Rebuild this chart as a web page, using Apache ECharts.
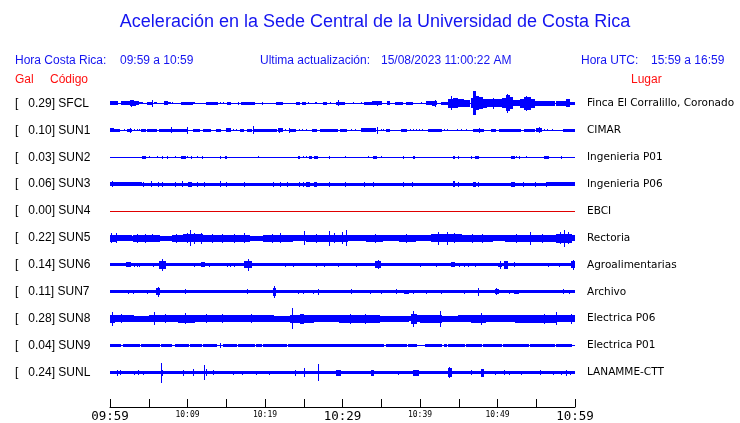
<!DOCTYPE html>
<html>
<head>
<meta charset="utf-8">
<script src="https://cdn.jsdelivr.net/npm/echarts@6/dist/echarts.min.js"></script>
<style>html,body{margin:0;padding:0;background:#fff}#c{width:740px;height:423px}</style>
</head>
<body>
<div id="c"></div>
<script>
// ---------- data ----------
const codes  = ['SFCL','SUN1','SUN2','SUN3','SUN4','SUN5','SUN6','SUN7','SUN8','SUN9','SUNL'];
const gals   = ['0.29','0.10','0.03','0.06','0.00','0.22','0.14','0.11','0.28','0.04','0.24'];
const places = ['Finca El Corralillo, Coronado','CIMAR','Ingenieria P01','Ingenieria P06','EBCI','Rectoria',
                'Agroalimentarias','Archivo','Electrica P06','Electrica P01','LANAMME-CTT'];
// background half-amplitude of each trace (pixels of a 27px row)
const baseAmp = [0.5,0.5,0.5,1.5,0.5,2.5,1.5,1.5,2.5,0.5,1.5];
// minutes after 09:59 of each axis label
const tickMinutes = [0,10,20,30,40,50,60];
const tickLabels  = ['09:59','10:09','10:19','10:29','10:39','10:49','10:59'];
const bigTickLabels = ['09:59','10:29','10:59'];
// envelope segments: [startMinute, endMinute, halfAmplitude]
const sfcl = [[0,0.5,2],[0.6,1.0,2],[1.5,2.0,2],[2.1,2.5,2],[2.6,3.0,3],[2.8,2.8,3.5],[3.0,3.3,2.5],[3.3,3.65,2],[3.65,4.2,1],
 [4.8,5.3,1.5],[5.45,5.45,3.5],[5.8,6.0,1],[7.0,7.4,2],[7.6,7.8,1],[8.0,8.1,1],[9.2,10.0,1.5],[10.1,10.6,1.5],
 [10.8,10.9,1],[12.4,13.9,1.5],[14.2,14.3,1],[14.6,14.7,1],[15.2,15.6,1.5],[16.6,16.6,1.5],[17.0,18.7,1.5],[19.7,19.7,1.5],
 [21.5,22.3,1.5],[24.0,24.4,1.5],[24.9,25.2,1.5],[25.6,25.6,1],[26.5,26.7,1],[27.6,27.9,1.5],[28.5,28.5,1],
 [29.2,30.2,1.5],[29.5,29.5,3],[31.4,31.4,1],[32.4,32.4,1],[32.9,33.9,1.5],[33.9,35.0,2],[34.5,34.5,2.5],
 [35.8,36.1,2],[36.8,37.8,1.5],[38.3,39.0,1.5],[40.2,40.2,1],[40.85,41.6,2],[41.6,41.9,2.5],[41.95,41.95,3.5],
 [42.0,42.15,2],[42.8,43.65,1.5],[43.65,44.3,4.5],[44.0,44.0,7],[44.3,44.8,5],[44.8,45.6,4],[45.6,46.45,3.5],
 [46.6,46.8,5],[46.9,47.1,12],[47.1,47.6,7],[47.6,48.1,6],[48.1,48.6,4.5],[48.6,50.5,4],[49.5,49.5,5.5],
 [50.7,51.1,5],[51.1,51.6,8],[51.35,51.35,9.5],[51.6,52.0,6],[52.0,52.9,3],[53.0,53.5,4.5],[53.5,54.2,6.5],
 [53.8,53.8,7.5],[54.2,54.8,4.5],[54.8,57.4,2.5],[57.6,58.9,2.5],[58.9,59.35,4],[59.35,60,1.5]];
const sun1 = [[0,0.4,2],[0.6,1.2,1.5],[1.9,1.9,1],[2.3,2.8,1.5],[2.6,2.6,2.5],[3.2,3.2,1],[3.5,3.5,1],[3.8,3.8,1],
 [4.1,4.6,1.5],[4.85,6.0,1.5],[6.45,9.9,1.5],[7.95,7.95,3],[10.0,10.0,3.5],[10.75,11.6,1.5],[12.1,13.0,1.5],
 [13.75,14.2,1.5],[15.05,15.5,2],[15.9,15.9,1],[16.3,16.3,1],[16.8,17.2,1.5],[17.75,18.3,1.5],[18.5,18.5,4],
 [18.6,21.5,1.5],[21.7,22.3,2],[21.9,21.9,2.5],[22.7,22.7,1],[23.1,24.0,1.5],[23.2,23.2,2.5],[24.4,24.4,1],
 [24.9,24.9,1],[25.3,25.3,1],[26.1,26.65,1.5],[27.2,29.3,1.5],[29.7,30.5,1.5],[31.2,31.2,1],[31.7,31.7,1],
 [32.5,34.2,2],[34.5,34.5,3.5],[35.0,35.0,1],[35.3,35.3,1],[35.7,36.1,1.5],[37.6,38.3,1.5],[38.8,38.8,1],
 [39.2,39.2,1],[39.5,39.5,1],[39.9,39.9,1],[40.3,40.3,1],[41.05,42.8,1.5],[43.1,43.1,1],[43.6,43.6,1],
 [44.9,44.9,1],[45.3,45.3,1],[46.0,46.0,1],[46.9,48.15,1.5],[47.7,47.7,2.5],[49.25,49.7,1.5],[50.3,53.0,1.5],
 [53.5,54.75,1.5],[55.05,55.7,2],[55.4,55.4,3],[56.0,56.0,1],[56.4,56.4,1],[57.1,57.1,1],[58.5,60,1.5]];
const sun2 = [[4.15,4.6,1.5],[5.1,5.1,1],[6.1,6.1,1],[6.75,6.75,1.5],[7.4,7.4,1.5],[8.5,8.5,1],[9.25,9.7,1.5],
 [10.0,10.0,1],[10.5,10.5,1.5],[11.3,11.3,1],[11.9,11.9,1.5],[14.2,14.2,1.5],[14.85,15.05,1.5],[19.1,19.1,1],
 [24.3,24.5,1.5],[24.95,24.95,1],[25.4,25.4,1],[25.8,26.0,1.5],[26.45,26.75,1.5],[28.3,28.3,1.5],[30.45,30.45,1],
 [33.4,33.4,1],[33.95,34.4,1.5],[35.05,35.05,1],[37.85,37.85,1.5],[39.15,39.35,1.5],[44.3,44.5,1.5],
 [44.95,44.95,1.5],[46.65,46.65,1.5],[47.1,47.5,1.5],[51.8,52.25,1.5],[52.5,52.5,1],[52.9,52.9,1.5],
 [53.75,53.75,1],[56.1,56.55,1.5],[58.3,58.3,1.5]];
const sun3 = [[0,4.1,2],[0.3,0.3,3],[4.3,4.3,2.5],[5.3,5.3,3],[6.25,6.25,2.5],[6.75,6.75,2.5],[8.5,8.5,2.5],
 [9.3,9.3,3],[10.1,10.5,2.5],[11.3,11.3,2.5],[12.15,12.15,2.5],[14.2,14.2,3],[15.05,15.05,2.5],[17.35,17.35,2.5],
 [21.15,21.15,2.5],[21.95,21.95,2.5],[22.9,22.9,2.5],[24.45,24.45,2.5],[24.95,24.95,2.5],[25.4,25.8,2.5],
 [26.45,26.65,2.5],[28.3,28.3,2.5],[30.45,30.45,2.5],[32.8,32.8,2.5],[34.05,34.05,2.5],[37.85,37.85,2.5],
 [39.05,39.05,2.5],[44.3,44.5,3],[45.0,45.0,2.5],[46.9,47.1,2.5],[47.5,47.5,2.5],[51.8,52.25,2.5],
 [53.3,53.3,2.5],[54.9,54.9,2.5],[56.35,56.35,2.5],[56.5,60,2]];
const sun4 = [];
const sun5 = [[0,0.9,3.5],[0.2,0.2,5],[0.85,0.85,5],[0.9,2.8,3],[3.0,6.45,3.5],[3.6,3.6,4.5],[4.6,4.6,4.5],
 [5.5,5.5,4],[8.0,9.5,3.5],[8.6,8.6,4.5],[9.5,12.0,4],[10.0,10.0,5],[10.45,10.45,8],[10.9,10.9,5.5],
 [11.75,11.75,5.5],[12.0,18.0,3.5],[13.2,13.2,4.5],[14.5,14.5,4.5],[16.0,16.0,4.5],[17.4,17.4,5],
 [19.8,23.6,3.5],[21.0,21.0,4.5],[22.0,22.0,5],[23.6,25.3,3],[25.15,25.15,7],[25.3,30.7,3.5],[26.6,26.6,4.5],
 [28.3,28.3,7.5],[29.0,29.0,5],[30.0,30.0,6],[30.5,30.5,8],[30.7,33.1,3],[33.1,35.2,3.5],[34.2,34.2,4.5],
 [35.2,37.3,3],[37.3,39.4,3.5],[38.3,38.3,4.5],[39.4,41.5,3],[41.5,45.4,4],[42.35,42.35,6.5],[43.6,43.6,6.5],
 [44.5,44.5,5],[45.4,49.3,3.5],[46.8,46.8,4.5],[48.0,48.0,4.5],[49.3,51.0,3],[51.0,54.0,3.5],[52.5,52.5,4.5],
 [54.2,54.2,6.5],[54.0,57.6,3.5],[55.8,55.8,4.5],[57.6,59.6,4.5],[58.1,58.1,6],[58.6,58.6,8.5],[59.2,59.2,6],
 [59.6,60,3]];
const sun6 = [[2.15,2.7,2.5],[3.2,3.2,2],[3.5,3.5,2],[3.8,3.8,2],[5.6,5.6,2],[6.45,7.1,4],[6.75,6.75,6],
 [10.9,10.9,2],[11.8,12.25,2.5],[12.9,12.9,2],[15.1,15.1,2],[15.5,15.5,2],[16.1,16.1,2],[17.4,18.3,3.5],
 [17.85,17.85,6],[22.6,22.6,2],[23.65,23.65,2],[26.65,26.65,2],[27.7,27.7,2],[29.45,29.45,2],[31.8,31.8,2],
 [34.3,34.9,3.5],[34.6,34.6,4.5],[40.0,40.0,2],[42.15,42.15,2],[44.1,44.5,2.5],[45.15,45.15,2],[45.8,45.8,2],
 [46.3,46.3,2],[47.1,47.1,2],[50.1,50.5,2],[50.45,50.45,4],[50.95,51.3,4],[52.25,52.25,2.5],[56.55,56.55,2],
 [58.05,58.05,2],[59.55,60,3.5],[59.8,59.8,5]];
const sun7 = [[2.35,2.35,2],[3.0,3.0,2],[4.85,4.85,2],[6.0,6.45,3.5],[6.2,6.2,5],[9.7,9.7,2.5],[17.75,17.75,2.5],
 [21.1,21.4,4],[21.25,21.25,6],[24.3,24.3,2],[24.95,24.95,2],[26.2,26.2,2],[26.9,26.9,3],[31.2,31.2,2.5],
 [33.55,33.55,2],[35.05,35.05,2],[37.0,37.0,2.5],[38.05,38.5,2],[39.15,39.15,2],[40.85,40.85,2],[42.8,42.8,2],
 [45.8,45.8,2],[47.5,47.5,4],[49.7,50.1,2.5],[49.85,49.85,3.5],[51.6,51.6,2],[52.25,52.7,2],[58.5,58.5,2.5],
 [59.35,59.35,2]];
const sun8 = [[0,0.6,4],[0.3,0.3,7],[0.6,3.05,3.5],[1.5,1.5,4.5],[3.05,5.1,3],[5.1,5.9,3.5],[5.7,5.7,6.5],
 [5.9,8.9,3.5],[7.2,7.2,4.5],[8.9,10.9,4],[9.8,9.8,5.5],[10.9,17.0,3.5],[12.5,12.5,4.5],[14.5,14.5,4.5],
 [17.0,19.9,3.5],[18.2,18.2,4.5],[19.9,21.1,3.5],[21.1,23.1,3],[23.3,23.8,4],[23.55,23.55,10.5],[23.8,26.2,4],
 [24.6,25.0,5],[26.2,29.6,3.5],[29.6,34.8,4],[31.0,31.0,5],[33.0,33.0,5],[34.8,38.5,3],[38.9,39.55,5],
 [39.2,39.2,8],[39.55,40.1,3.5],[40.1,42.8,4],[42.6,42.6,8],[42.8,45.0,3],[45.0,46.7,3.5],[46.7,48.4,4],
 [47.95,47.95,6],[48.4,50.6,3.5],[50.6,52.3,3.5],[52.3,54.9,4],[54.9,57.5,4],[56.0,56.0,5],[57.6,57.6,6.5],
 [57.5,60,3.5],[59.5,59.5,5]];
const sun9 = [[0,1.4,1.5],[1.7,3.85,1.5],[4.1,6.45,1.5],[6.65,7.95,1.5],[8.4,10.1,1.5],[10.45,11.8,1.5],
 [12.05,13.75,1.5],[14.2,14.2,2.5],[14.6,16.35,1.5],[16.55,18.7,1.5],[18.9,19.5,1.5],[19.8,20.65,1.5],
 [20.85,22.8,1.5],[23.0,27.1,1.5],[27.3,29.7,1.5],[29.9,35.25,1.5],[35.7,38.3,1.5],[38.5,39.55,1.5],
 [40.65,42.8,1.5],[43.2,43.4,1.5],[43.65,45.8,1.5],[46.0,47.95,1.5],[48.2,50.55,1.5],[50.75,53.95,1.5],
 [54.2,57.4,1.5],[57.6,59.55,1.5]];
const sunl = [[0.95,0.95,3],[1.4,1.4,2.5],[3.2,3.2,2],[3.65,3.65,2.5],[4.3,4.3,2],[6.6,6.6,10],[6.8,6.8,3],
 [9.45,9.45,3],[10.75,10.75,3.5],[12.25,12.25,7.5],[12.45,12.45,3.5],[13.35,13.35,2.5],[15.9,15.9,2],
 [17.05,17.05,2],[18.9,18.9,2],[20.55,20.55,2],[23.9,23.9,3],[25.15,25.15,4.5],[26.9,26.9,8.5],
 [29.25,29.7,3],[33.75,33.95,3],[37.2,37.2,2],[39.15,39.8,3],[39.55,39.55,3],[43.65,44.1,4.5],
 [43.85,43.85,5.5],[46.65,46.65,2.5],[47.95,48.15,4],[49.7,49.7,2],[50.9,50.9,2.5],[51.6,51.6,2],
 [53.1,53.1,2],[55.5,55.5,2.5],[57.2,57.2,2],[58.3,58.3,2],[58.9,58.9,3],[59.45,59.45,2]];
const traces = [sfcl,sun1,sun2,sun3,sun4,sun5,sun6,sun7,sun8,sun9,sunl];
const totalMinutes = 60;

// ---------- styling ----------
const BLUE = '#0000ff', DEAD = '#e00000', TXT_BLUE = '#1414f0', TXT_RED = '#ff1010';
const ROW_PX = 27;

const items = [];
traces.forEach((segs, i) => {
  items.push([i, 0, totalMinutes, baseAmp[i]]);
  segs.forEach(s => items.push([i, s[0], s[1], s[2]]));
});

const chart = echarts.init(document.getElementById('c'), null, {renderer: 'canvas'});
chart.setOption({
  animation: false,
  grid: {left: 110, width: 465, top: 90, height: 297},
  xAxis: {
    type: 'value', min: 0, max: totalMinutes, interval: 5, offset: 21,
    axisLine: {show: true, lineStyle: {color: '#000', width: 1}},
    axisTick: {show: true, inside: true, length: 8, lineStyle: {color: '#000', width: 1}},
    splitLine: {show: false},
    axisLabel: {
      margin: 2, color: '#000', fontFamily: 'DejaVu Sans Mono',
      formatter: v => {
        const k = tickMinutes.indexOf(v);
        if (k < 0) return '';
        const lab = tickLabels[k];
        return bigTickLabels.includes(lab) ? '{b|' + lab + '}' : '{s|' + lab + '}';
      },
      rich: {
        b: {fontSize: 12.5, fontFamily: 'DejaVu Sans Mono', color: '#000', padding: [1,0,0,0]},
        s: {fontSize: 8, fontFamily: 'DejaVu Sans Mono', color: '#000', padding: [2,0,0,0]}
      }
    }
  },
  yAxis: [{
    type: 'category', data: codes, inverse: true, position: 'left',
    axisLine: {show: false}, axisTick: {show: false}, splitLine: {show: false},
    axisLabel: {
      margin: 95, align: 'left', color: '#000', fontFamily: 'Liberation Sans', fontSize: 12,
      formatter: (v, idx) => '[   ' + gals[idx] + '] ' + v
    }
  }, {
    type: 'category', data: places, inverse: true, position: 'right',
    axisLine: {show: false}, axisTick: {show: false}, splitLine: {show: false},
    axisLabel: {margin: 12, align: 'left', color: '#000', fontFamily: 'DejaVu Sans', fontSize: 10.5}
  }],
  graphic: [
    {type: 'text', x: 375, y: 22, style: {text: 'Aceleración en la Sede Central de la Universidad de Costa Rica',
      fill: TXT_BLUE, font: '18px "Liberation Sans"', textAlign: 'center', textVerticalAlign: 'middle'}},
    {type: 'text', x: 15, y: 61, style: {text: 'Hora Costa Rica:', fill: TXT_BLUE, font: '12px "Liberation Sans"', textVerticalAlign: 'middle'}},
    {type: 'text', x: 120, y: 61, style: {text: '09:59 a 10:59', fill: TXT_BLUE, font: '12px "Liberation Sans"', textVerticalAlign: 'middle'}},
    {type: 'text', x: 260, y: 61, style: {text: 'Ultima actualización:', fill: TXT_BLUE, font: '12px "Liberation Sans"', textVerticalAlign: 'middle'}},
    {type: 'text', x: 381, y: 61, style: {text: '15/08/2023 11:00:22 AM', fill: TXT_BLUE, font: '12px "Liberation Sans"', textVerticalAlign: 'middle'}},
    {type: 'text', x: 581, y: 61, style: {text: 'Hora UTC:', fill: TXT_BLUE, font: '12px "Liberation Sans"', textVerticalAlign: 'middle'}},
    {type: 'text', x: 651, y: 61, style: {text: '15:59 a 16:59', fill: TXT_BLUE, font: '12px "Liberation Sans"', textVerticalAlign: 'middle'}},
    {type: 'text', x: 15, y: 80, style: {text: 'Gal', fill: TXT_RED, font: '12px "Liberation Sans"', textVerticalAlign: 'middle'}},
    {type: 'text', x: 50, y: 80, style: {text: 'Código', fill: TXT_RED, font: '12px "Liberation Sans"', textVerticalAlign: 'middle'}},
    {type: 'text', x: 631, y: 80, style: {text: 'Lugar', fill: TXT_RED, font: '12px "Liberation Sans"', textVerticalAlign: 'middle'}}
  ],
  series: [{
    type: 'custom',
    coordinateSystem: 'cartesian2d',
    xAxisIndex: 0, yAxisIndex: 0,
    encode: {x: [1, 2], y: 0},
    data: items,
    clip: false,
    renderItem: (params, api) => {
      const row = api.value(0), t0 = api.value(1), t1 = api.value(2), a = api.value(3);
      const p0 = api.coord([t0, row]), p1 = api.coord([t1, row]);
      const k = api.size([0, 1])[1] / ROW_PX;
      const x0 = Math.floor(p0[0]);
      const x1 = Math.max(Math.ceil(p1[0]), x0 + 1);
      const h = Math.max(1, Math.round(2 * a * k));
      const yTop = Math.round(p0[1] - h / 2);
      const color = parseFloat(gals[row]) === 0 ? DEAD : BLUE;
      return {type: 'rect', shape: {x: x0, y: yTop, width: x1 - x0, height: h},
              style: {fill: color}, silent: true};
    }
  }]
});
</script>
</body>
</html>
